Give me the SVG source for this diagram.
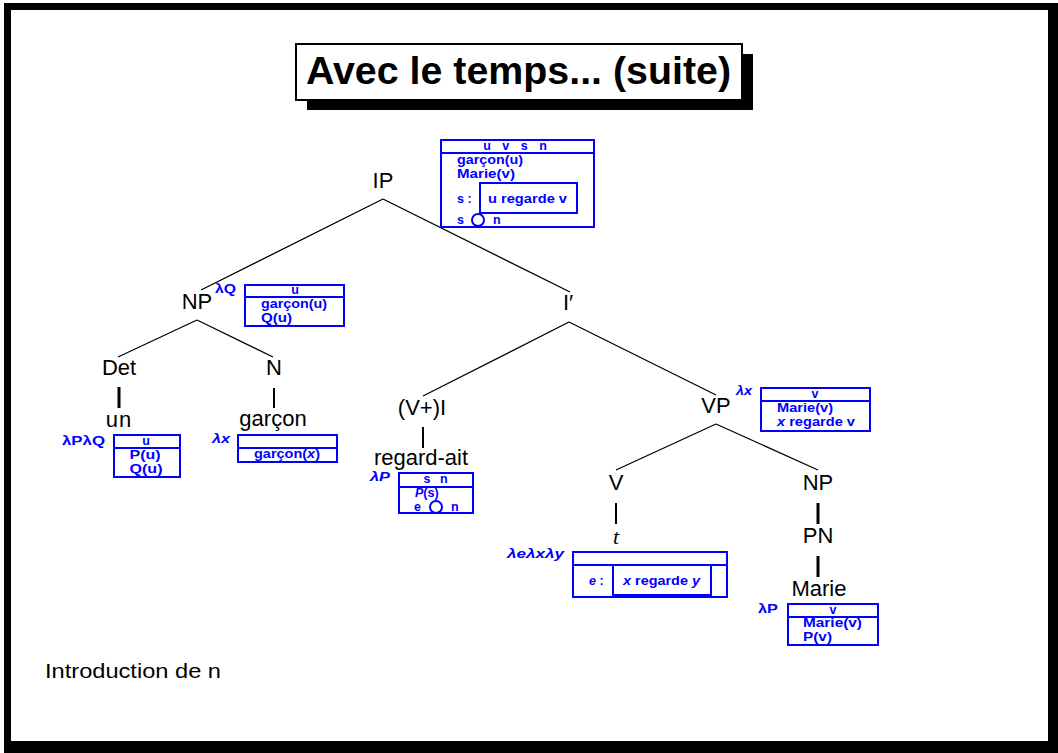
<svg xmlns="http://www.w3.org/2000/svg" width="1058" height="753" viewBox="0 0 1058 753">
  <style>
    .lbl { font-family: "Liberation Sans", Arial, sans-serif; font-size: 22px; fill: #000; text-anchor: middle; }
    .drs { font-family: "Liberation Sans", Arial, sans-serif; font-size: 12.5px; font-weight: bold; fill: #0000ff; }
    .mid { text-anchor: middle; }
    .box { fill: none; stroke: #0000ff; stroke-width: 2; }
    .edge { stroke: #000; stroke-width: 1.3; fill: none; }
    .bar { stroke: #000; fill: none; }
    .it { font-style: italic; }
  </style>

  <!-- page frame with heavier right/bottom edge -->
  <rect x="4" y="3" width="1054" height="750" fill="#000"/>
  <rect x="11" y="10" width="1037" height="731" fill="#fff"/>

  <!-- title with drop shadow -->
  <g id="title">
    <rect x="307" y="54" width="446" height="56" fill="#000"/>
    <rect x="296" y="44" width="446" height="56" fill="#fff" stroke="#000" stroke-width="2"/>
    <text x="306" y="84" font-family="'Liberation Sans', Arial, sans-serif" font-size="38" font-weight="bold" textLength="425" lengthAdjust="spacingAndGlyphs">Avec le temps... (suite)</text>
  </g>

  <!-- tree branches -->
  <g id="connectors">
    <path class="edge" d="M383,199 L201,290 M383,199 L570,292"/>
    <path class="edge" d="M197,320 L118,357 M197,320 L273,357"/>
    <path class="edge" d="M569,322 L423,396 M569,322 L716,395"/>
    <path class="edge" d="M716,424 L616,470 M716,424 L818,470"/>
    <path class="bar" stroke-width="3" d="M119,387 V408"/>
    <path class="bar" stroke-width="2" d="M274,388 V408"/>
    <path class="bar" stroke-width="2" d="M423,427 V448"/>
    <path class="bar" stroke-width="2" d="M616,503 V524"/>
    <path class="bar" stroke-width="3" d="M818,503 V524"/>
    <path class="bar" stroke-width="3" d="M818,556 V577"/>
  </g>

  <!-- IP with its DRS -->
  <g id="node-IP">
    <text class="lbl" x="383" y="188">IP</text>
    <rect class="box" x="441" y="140" width="153" height="87"/>
    <line class="box" x1="441" y1="153" x2="594" y2="153"/>
    <text class="drs mid" x="517" y="150" letter-spacing="4">u v s n</text>
    <text class="drs" x="457" y="164" textLength="66" lengthAdjust="spacingAndGlyphs">garçon(u)</text>
    <text class="drs" x="457" y="178" textLength="58" lengthAdjust="spacingAndGlyphs">Marie(v)</text>
    <text class="drs" x="457" y="203">s :</text>
    <rect class="box" x="480" y="183" width="97" height="30"/>
    <text class="drs" x="488" y="203" textLength="79" lengthAdjust="spacingAndGlyphs">u regarde v</text>
    <text class="drs" x="457" y="224">s</text>
    <circle class="box" cx="478" cy="220" r="6" stroke-width="1.5"/>
    <text class="drs" x="493" y="224">n</text>
  </g>

  <!-- subject NP -->
  <g id="node-NP">
    <text class="lbl" x="197" y="309">NP</text>
    <text class="drs" x="215" y="293" textLength="21" lengthAdjust="spacingAndGlyphs">λQ</text>
    <rect class="box" x="245" y="285" width="99" height="41"/>
    <line class="box" x1="245" y1="297" x2="344" y2="297"/>
    <text class="drs mid" x="295" y="294">u</text>
    <text class="drs" x="261" y="308" textLength="66" lengthAdjust="spacingAndGlyphs">garçon(u)</text>
    <text class="drs" x="261" y="322" textLength="31" lengthAdjust="spacingAndGlyphs">Q(u)</text>
  </g>

  <g id="node-Det">
    <text class="lbl" x="119" y="375">Det</text>
  </g>

  <g id="node-un">
    <text class="lbl" x="119" y="427" letter-spacing="1">un</text>
    <text class="drs" x="62" y="445" textLength="43" lengthAdjust="spacingAndGlyphs">λPλQ</text>
    <rect class="box" x="114" y="435" width="66" height="42"/>
    <line class="box" x1="114" y1="448" x2="180" y2="448"/>
    <text class="drs mid" x="146" y="445">u</text>
    <text class="drs mid" x="145" y="459" textLength="31" lengthAdjust="spacingAndGlyphs">P(u)</text>
    <text class="drs mid" x="146" y="473" textLength="33" lengthAdjust="spacingAndGlyphs">Q(u)</text>
  </g>

  <g id="node-N">
    <text class="lbl" x="274" y="375">N</text>
  </g>

  <g id="node-garcon">
    <text class="lbl" x="273" y="426">garçon</text>
    <text class="drs it" x="212" y="443" textLength="18" lengthAdjust="spacingAndGlyphs">λx</text>
    <rect class="box" x="238" y="435" width="99" height="27"/>
    <line class="box" x1="238" y1="448" x2="337" y2="448"/>
    <text class="drs" x="254" y="458" textLength="66" lengthAdjust="spacingAndGlyphs">garçon(<tspan font-style="italic">x</tspan>)</text>
  </g>

  <g id="node-Ibar">
    <text class="lbl" x="568" y="310">I′</text>
  </g>

  <g id="node-VplusI">
    <text class="lbl" x="422" y="415">(V+)I</text>
  </g>

  <g id="node-regard-ait">
    <text class="lbl" x="421" y="465">regard-ait</text>
    <text class="drs it" x="370" y="481" textLength="20" lengthAdjust="spacingAndGlyphs">λP</text>
    <rect class="box" x="399" y="473" width="74" height="40"/>
    <line class="box" x1="399" y1="487" x2="473" y2="487"/>
    <text class="drs mid" x="437" y="483" letter-spacing="3">s n</text>
    <text class="drs" x="415" y="497"><tspan font-style="italic">P</tspan>(s)</text>
    <text class="drs" x="414" y="511">e</text>
    <circle class="box" cx="436" cy="507" r="6" stroke-width="1.5"/>
    <text class="drs" x="451" y="511">n</text>
  </g>

  <g id="node-VP">
    <text class="lbl" x="716" y="413">VP</text>
    <text class="drs it" x="736" y="395" textLength="16" lengthAdjust="spacingAndGlyphs">λx</text>
    <rect class="box" x="761" y="388" width="109" height="43"/>
    <line class="box" x1="761" y1="401" x2="870" y2="401"/>
    <text class="drs mid" x="815" y="398">v</text>
    <text class="drs" x="777" y="412" textLength="56" lengthAdjust="spacingAndGlyphs">Marie(v)</text>
    <text class="drs" x="777" y="426" textLength="78" lengthAdjust="spacingAndGlyphs"><tspan font-style="italic">x</tspan> regarde v</text>
  </g>

  <g id="node-V">
    <text class="lbl" x="616" y="490">V</text>
  </g>

  <g id="node-t">
    <text x="616" y="544" font-family="'Liberation Serif', 'Times New Roman', serif" font-size="22" font-style="italic" text-anchor="middle">t</text>
    <text class="drs it" x="507" y="558" textLength="57" lengthAdjust="spacingAndGlyphs">λeλxλy</text>
    <rect class="box" x="573" y="552" width="154" height="45"/>
    <line class="box" x1="573" y1="565" x2="727" y2="565"/>
    <rect class="box" x="613" y="565" width="98" height="30"/>
    <text class="drs" x="589" y="585"><tspan font-style="italic">e</tspan> :</text>
    <text class="drs" x="623" y="585" textLength="77" lengthAdjust="spacingAndGlyphs"><tspan font-style="italic">x</tspan> regarde <tspan font-style="italic">y</tspan></text>
  </g>

  <g id="node-NP-obj">
    <text class="lbl" x="818" y="490">NP</text>
  </g>

  <g id="node-PN">
    <text class="lbl" x="818" y="543">PN</text>
  </g>

  <g id="node-Marie">
    <text class="lbl" x="819" y="596">Marie</text>
    <text class="drs" x="758" y="613" textLength="20" lengthAdjust="spacingAndGlyphs">λP</text>
    <rect class="box" x="788" y="604" width="90" height="41"/>
    <line class="box" x1="788" y1="617" x2="878" y2="617"/>
    <text class="drs mid" x="833" y="614">v</text>
    <text class="drs" x="803" y="627" textLength="59" lengthAdjust="spacingAndGlyphs">Marie(v)</text>
    <text class="drs" x="803" y="641" textLength="29" lengthAdjust="spacingAndGlyphs">P(v)</text>
  </g>

  <text x="45" y="678" font-family="'Liberation Sans', Arial, sans-serif" font-size="20" textLength="176" lengthAdjust="spacingAndGlyphs">Introduction de n</text>
</svg>
